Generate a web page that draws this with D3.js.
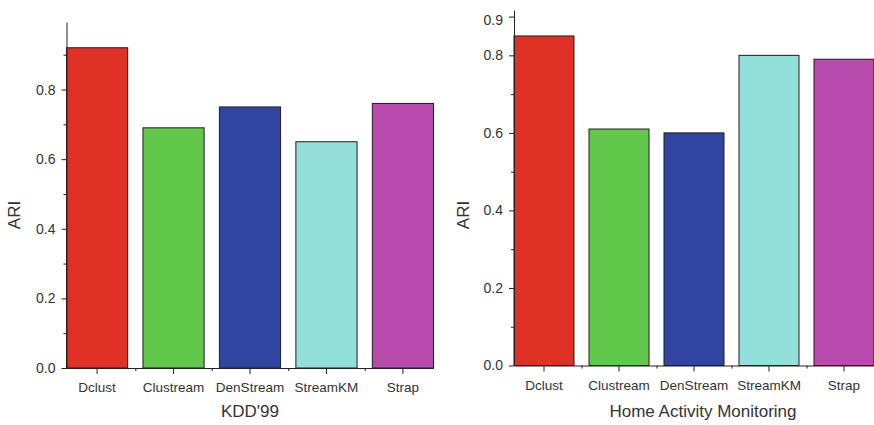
<!DOCTYPE html>
<html>
<head>
<meta charset="utf-8">
<script src="https://cdn.jsdelivr.net/npm/d3@7/dist/d3.min.js"></script>
<style>
  html, body { margin: 0; padding: 0; background: #fff; }
  svg { display: block; }
  text { font-family: "Liberation Sans", Arial, sans-serif; fill: #333; }
</style>
</head>
<body>
<svg id="chart" width="874" height="425"></svg>
<script>
const categories = ["Dclust", "Clustream", "DenStream", "StreamKM", "Strap"];
const colors = ["#e03126", "#62c84b", "#2f45a1", "#93e0db", "#b84aae"];
const kddValues = [0.92, 0.69, 0.75, 0.65, 0.76];
const homeValues = [0.85, 0.61, 0.60, 0.80, 0.79];
const kddTicks = [0.0, 0.2, 0.4, 0.6, 0.8];
const kddMinor = [0.1, 0.3, 0.5, 0.7, 0.9];
const homeTicks = [0.0, 0.2, 0.4, 0.6, 0.8, 0.9];
const homeMinor = [0.1, 0.3, 0.5, 0.7];
const titles = ["KDD'99", "Home Activity Monitoring"];
const yTitle = "ARI";

const svg = d3.select("#chart");

function panel(cfg) {
  const g = svg.append("g");
  const x = d3.scaleBand().domain(categories).range([cfg.x0, cfg.x1])
    .paddingInner(0.2).paddingOuter(0);
  const y = d3.scaleLinear().domain([0, cfg.yMax]).range([cfg.y0, cfg.y1]);

  // bars
  g.selectAll("rect.bar").data(cfg.values).enter().append("rect")
    .attr("class", "bar")
    .attr("x", (d, i) => x(categories[i]))
    .attr("width", x.bandwidth())
    .attr("y", d => y(d))
    .attr("height", d => y(0) - y(d))
    .attr("fill", (d, i) => colors[i])
    .attr("stroke", "#1e1e1e")
    .attr("stroke-width", 1);

  // y axis major
  const ya = g.append("g").attr("transform", `translate(${cfg.x0},0)`)
    .call(d3.axisLeft(y).tickValues(cfg.ticks).tickSize(5).tickSizeOuter(0)
      .tickPadding(6).tickFormat(d3.format(".1f")));
  ya.selectAll("text").attr("font-size", "14px").style("font-family", "Liberation Sans, Arial, sans-serif").attr("fill", "#333");
  ya.selectAll("line,path").attr("stroke", "#222");
  if (cfg.topNudge) {
    ya.selectAll(".tick text").filter(d => d === cfg.ticks[cfg.ticks.length - 1]).attr("dy", "0.55em");
  }
  // y axis minor
  const ym = g.append("g").attr("transform", `translate(${cfg.x0},0)`)
    .call(d3.axisLeft(y).tickValues(cfg.minor).tickSize(3).tickSizeOuter(0).tickFormat(""));
  ym.select(".domain").remove();
  ym.selectAll("line").attr("stroke", "#222");

  // x axis
  const xa = g.append("g").attr("transform", `translate(0,${cfg.y0})`)
    .call(d3.axisBottom(x).tickSize(6).tickSizeOuter(0).tickPadding(8.5));
  xa.selectAll("text").attr("font-size", "13.5px").style("font-family", "Liberation Sans, Arial, sans-serif").attr("fill", "#333");
  xa.selectAll("line,path").attr("stroke", "#222");
  // minor x ticks at category boundaries
  const step = x.step();
  g.selectAll("line.xminor").data(categories.slice(1)).enter().append("line")
    .attr("class", "xminor")
    .attr("x1", d => x(d) - step * x.paddingInner() / 2 + 0.5)
    .attr("x2", d => x(d) - step * x.paddingInner() / 2 + 0.5)
    .attr("y1", cfg.y0).attr("y2", cfg.y0 + 3)
    .attr("stroke", "#222");

  // titles
  g.append("text")
    .attr("x", (cfg.x0 + cfg.x1) / 2 + cfg.titleDx)
    .attr("y", 417)
    .attr("text-anchor", "middle")
    .attr("font-size", "17px")
    .text(cfg.title);
  g.append("text")
    .attr("transform", `translate(${cfg.yTitleX},215) rotate(-90)`)
    .attr("text-anchor", "middle")
    .attr("font-size", "17px")
    .text(yTitle);
}

panel({ x0: 66.5, x1: 433.5, y0: 368, y1: 22, yMax: 0.994,
  values: kddValues, ticks: kddTicks, minor: kddMinor, title: titles[0], titleDx: 0, yTitleX: 20, topNudge: false });
panel({ x0: 514, x1: 874, y0: 365.5, y1: 10, yMax: 0.917,
  values: homeValues, ticks: homeTicks, minor: homeMinor, title: titles[1], titleDx: 9, yTitleX: 469, topNudge: true });
</script>
</body>
</html>
